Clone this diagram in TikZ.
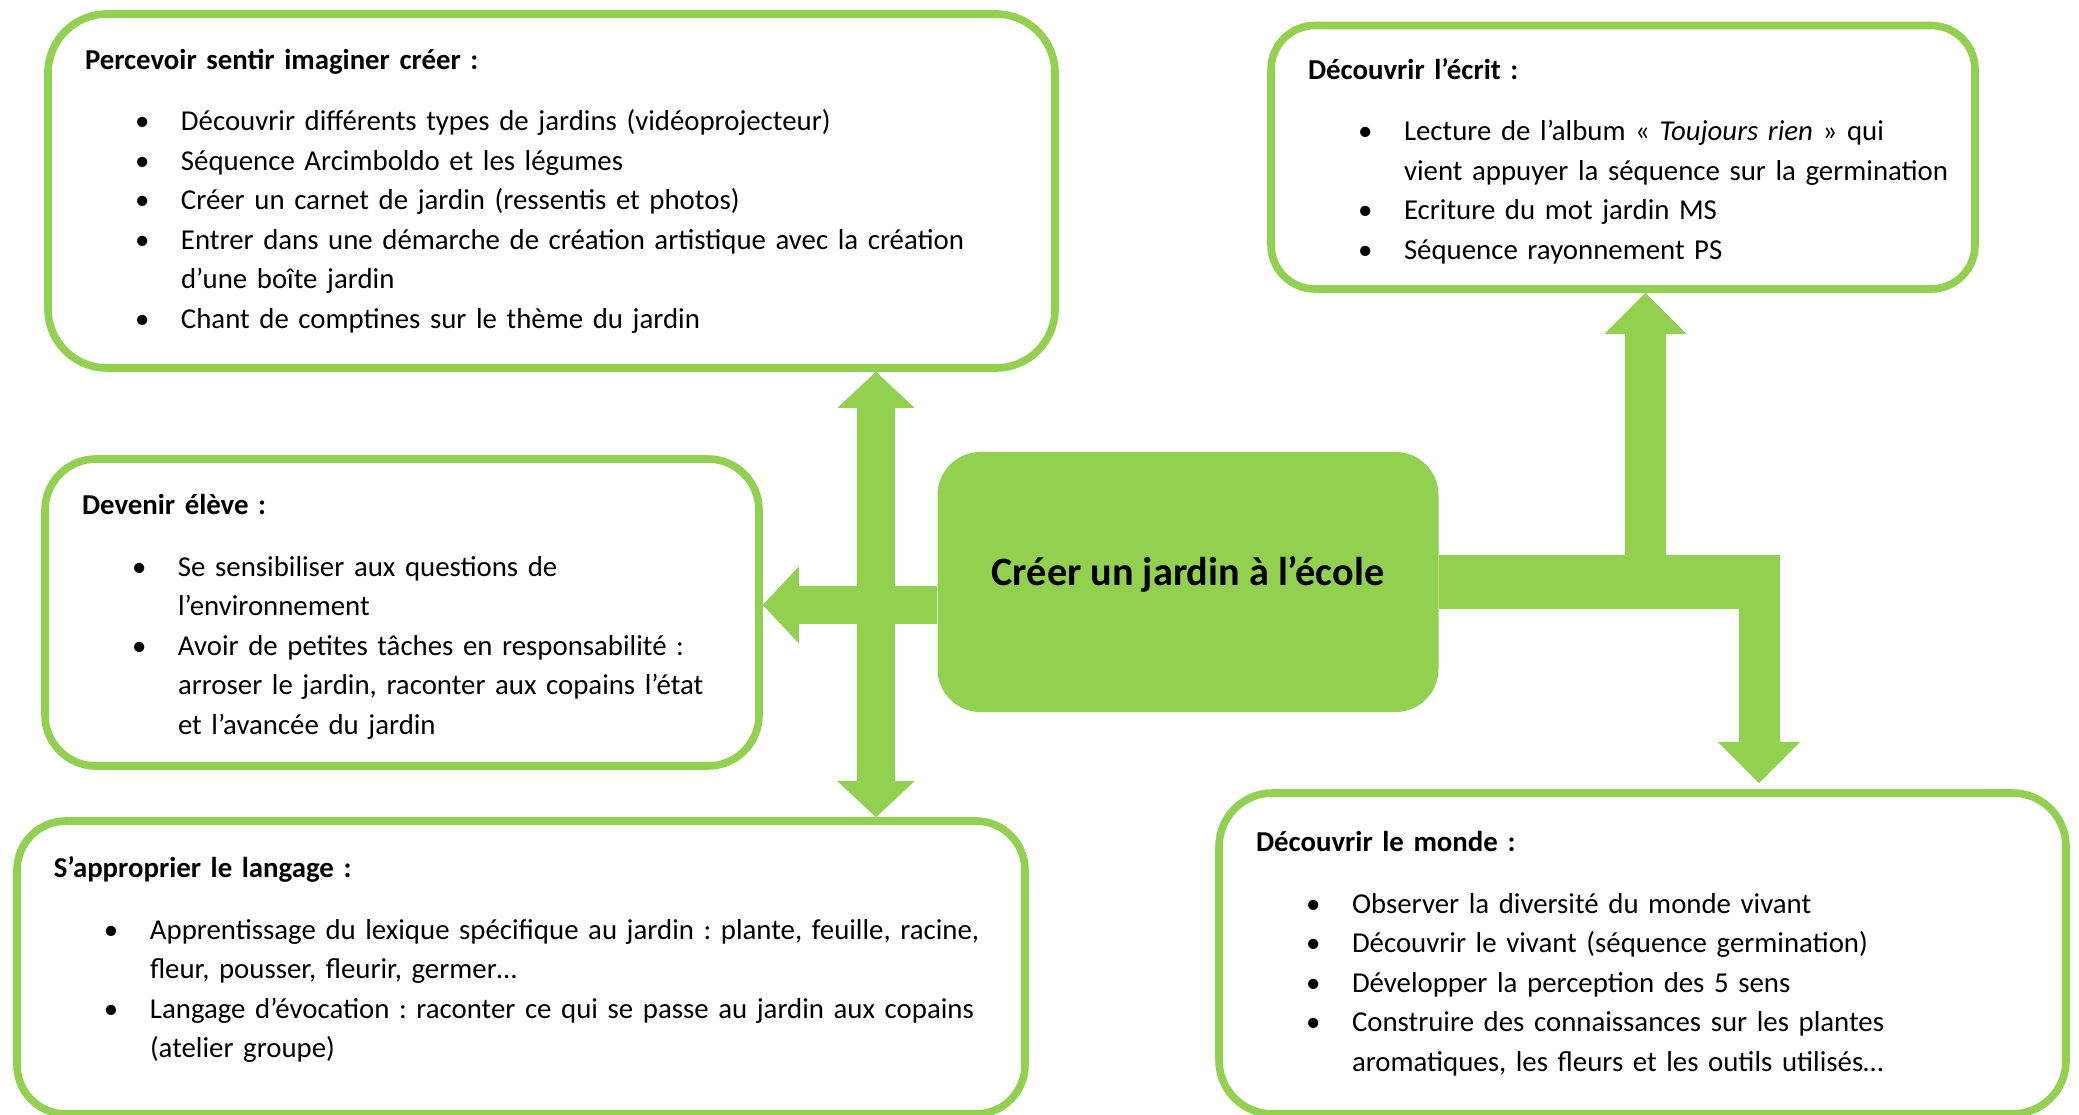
\documentclass[tikz,border=0pt]{standalone}
\usepackage{fontspec}
\setmainfont{Carlito}
\usetikzlibrary{arrows.meta}
\definecolor{leafgreen}{RGB}{146,208,80}
\frenchspacing
\newcommand{\titre}[1]{\noindent\textbf{#1}\par\vspace{0.22cm}}
\newcommand{\puce}[1]{\par\hangindent=0.96cm\hangafter=1\noindent\hspace*{0.5cm}\makebox[0.46cm][l]{\textbullet}#1\par}
\newcommand{\basfin}[1]{\par\vspace{#1}\hrule height 0pt}

\begin{document}
\begin{tikzpicture}[
        box/.style={rectangle, draw=leafgreen, line width=0.076cm, fill=white, align=left, inner xsep=0.37cm, font=\fontsize{8.2pt}{0.395cm}\selectfont},
        centerbox/.style={rectangle, fill=leafgreen, rounded corners=0.43cm, minimum width=5.01cm, minimum height=2.6cm, font=\fontsize{11.45pt}{13pt}\selectfont\bfseries},
        lefttip/.tip={Triangle[width=0.77cm, length=0.36cm, line width=0pt]},
        righttip/.tip={Triangle[width=0.82cm, length=0.41cm, line width=0pt]},
        arrow/.style={leafgreen, line width=0.38cm},
        bigarrow/.style={leafgreen, line width=0.41cm, -righttip}
    ]
        \clip (0,0) rectangle (20.79,-11.15);

        % Centre
        \node[centerbox] (hub) at (11.88,-5.82) {\raisebox{0.22cm}{Créer un jardin à l’école}};

        % Boxes
        \node[box, minimum width=10.07cm, minimum height=3.54cm, text width=9.33cm, rounded corners=0.59cm] (percevoir) at (5.515,-1.91) {
            \titre{Percevoir sentir imaginer créer :}
            \puce{Découvrir différents types de jardins (vidéoprojecteur)}
            \puce{Séquence Arcimboldo et les légumes}
            \puce{Créer un carnet de jardin (ressentis et photos)}
            \puce{Entrer dans une démarche de création artistique avec la création\newline d’une boîte jardin}
            \puce{Chant de comptines sur le thème du jardin}};
        \node[box, minimum width=7.04cm, minimum height=2.635cm, text width=6.30cm, rounded corners=0.44cm] (ecrit) at (16.23,-1.5725) {
            \titre{Découvrir l’écrit :}
            \puce{Lecture de l’album « \textit{Toujours rien} » qui\newline \mbox{vient appuyer la séquence sur la germination}}
            \puce{Ecriture du mot jardin MS}
            \puce{Séquence rayonnement PS}
            \basfin{-0.08cm}};
        \node[box, minimum width=7.14cm, minimum height=3.07cm, text width=6.40cm, rounded corners=0.51cm] (eleve) at (4.02,-6.125) {
            \titre{Devenir élève :}
            \puce{Se sensibiliser aux questions de\newline l’environnement}
            \puce{Avoir de petites tâches en responsabilité :\newline arroser le jardin, raconter aux copains l’état\newline et l’avancée du jardin}
            \basfin{-0.09cm}};
        \node[box, minimum width=10.08cm, minimum height=2.93cm, text width=9.34cm, rounded corners=0.49cm] (langage) at (5.21,-9.675) {
            \titre{S’approprier le langage :}
            \puce{Apprentissage du lexique spécifique au jardin : plante, feuille, racine,\newline fleur, pousser, fleurir, germer…}
            \puce{Langage d’évocation : raconter ce qui se passe au jardin aux copains\newline (atelier groupe)}
            \basfin{0.16cm}};
        \node[box, minimum width=8.47cm, minimum height=3.21cm, text width=7.73cm, rounded corners=0.535cm] (monde) at (16.425,-9.535) {
            \titre{Découvrir le monde :}
            \puce{Observer la diversité du monde vivant}
            \puce{Découvrir le vivant (séquence germination)}
            \puce{Développer la perception des 5 sens}
            \puce{Construire des connaissances sur les plantes\newline aromatiques, les fleurs et les outils utilisés…}};

        % Arrows
        \coordinate (vx) at (8.76,-6.05);
        \coordinate (fork) at (17.80,-5.82);
        \coordinate (upx) at (16.455,-5.82);
        \coordinate (downx) at (17.59,-5.82);
        \draw[arrow, lefttip-lefttip] (percevoir.south -| vx) -- (langage.north -| vx);
        \draw[arrow, -lefttip] (hub.west |- vx) -- (eleve.east |- vx);
        \draw[leafgreen, line width=0.546cm] (hub.east) -- (fork);
        \draw[bigarrow] (upx) -- (ecrit.south -| upx);
        \draw[bigarrow, shorten >=0.06cm] (downx) -- (monde.north -| downx);
    \end{tikzpicture}
\end{document}
